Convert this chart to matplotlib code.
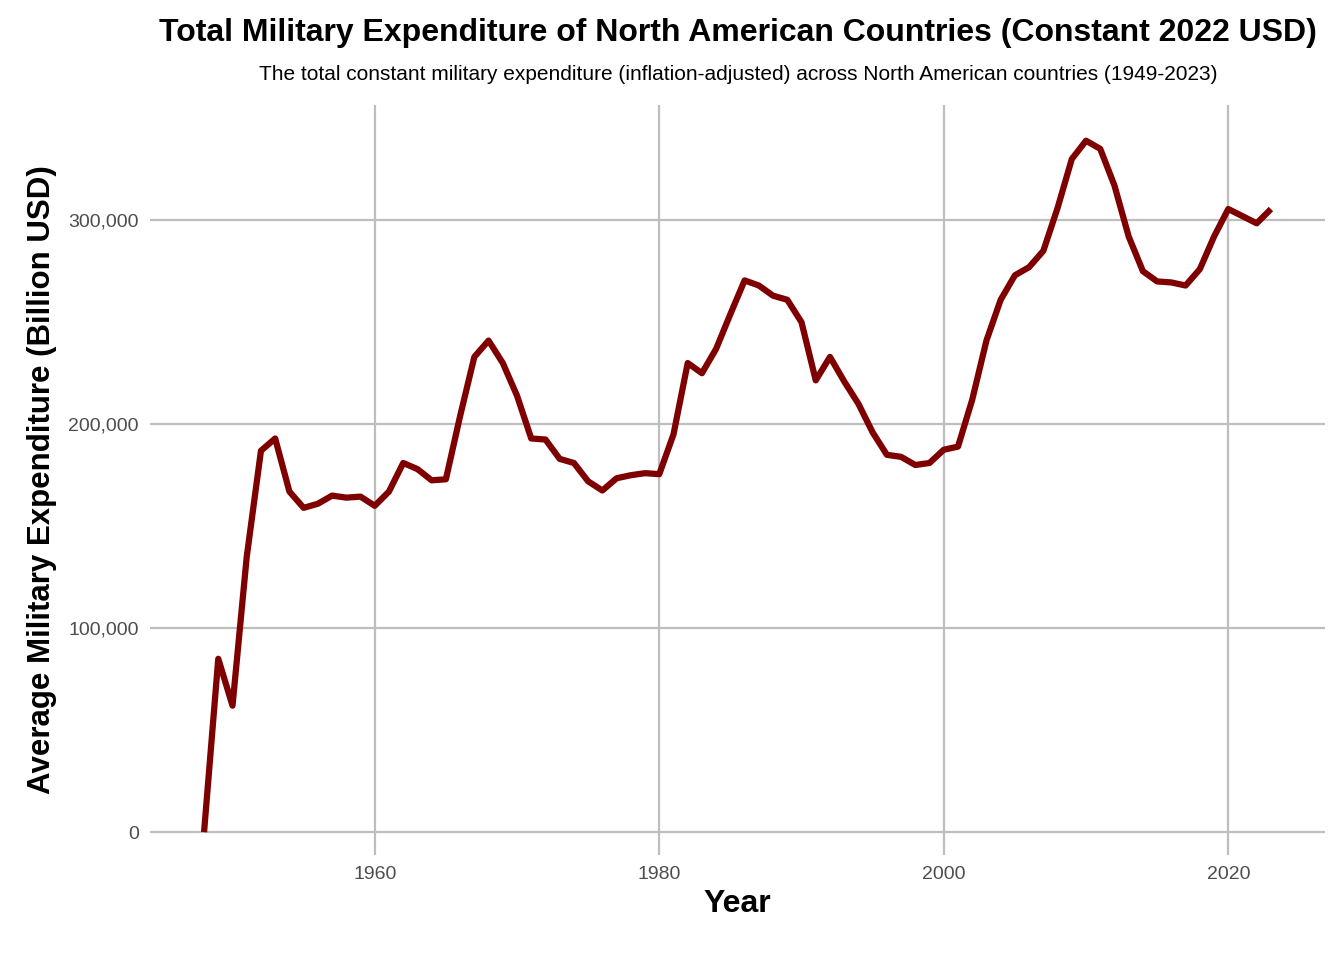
import matplotlib
matplotlib.use("Agg")
import matplotlib.pyplot as plt
from matplotlib.ticker import FuncFormatter

years = list(range(1948, 2024))
spend = [0, 85000, 62000, 135000, 187000, 193000, 167000, 159000, 161000, 165000,
         164000, 164500, 160000, 167000, 181000, 178000, 172500, 173000, 204000, 233000,
         241000, 230000, 214000, 193000, 192500, 183000, 181000, 172000, 167500, 173500,
         175000, 176000, 175500, 195000, 230000, 225000, 237000, 254000, 270500, 268000,
         263000, 261000, 250000, 221500, 233000, 221000, 210000, 196000, 185000, 184000,
         180000, 181000, 187500, 189000, 212000, 241000, 261000, 273000, 277000, 285000,
         306000, 330000, 339000, 335000, 317000, 292000, 275000, 270000, 269500, 268000,
         276000, 292000, 305500, 302000, 298500, 305500]

plt.rcParams['font.family'] = ['Liberation Sans', 'DejaVu Sans']
fig = plt.figure(figsize=(13.44, 9.6), dpi=100)
ax = fig.add_axes([150/1344, 105/960, 1175/1344, 750/960])
ax.plot(years, spend, color="#7f0000", lw=4.5, solid_capstyle="butt")
ax.set_xlim(1944.2, 2026.8)
ax.set_ylim(-11200, 356500)
ax.set_xticks([1960, 1980, 2000, 2020])
ax.set_yticks([0, 100000, 200000, 300000])
ax.yaxis.set_major_formatter(FuncFormatter(lambda v, p: f"{int(v):,}"))
ax.grid(True, color="#bebebe", lw=1.6)
ax.set_axisbelow(True)
for s in ax.spines.values():
    s.set_visible(False)
ax.tick_params(length=0, labelsize=14, colors="#4d4d4d", pad=8)
ax.set_xlabel("Year", fontsize=23, fontweight="bold", labelpad=4)
ax.set_ylabel("Average Military Expenditure (Billion USD)", fontsize=22.5, fontweight="bold", labelpad=8)
fig.text(0.549, 0.966, "Total Military Expenditure of North American Countries (Constant 2022 USD)",
         ha="center", va="center", fontsize=23, fontweight="bold")
fig.text(0.549, 0.922, "The total constant military expenditure (inflation-adjusted) across North American countries (1949-2023)",
         ha="center", va="center", fontsize=15)
fig.savefig("out.png", dpi=100)
